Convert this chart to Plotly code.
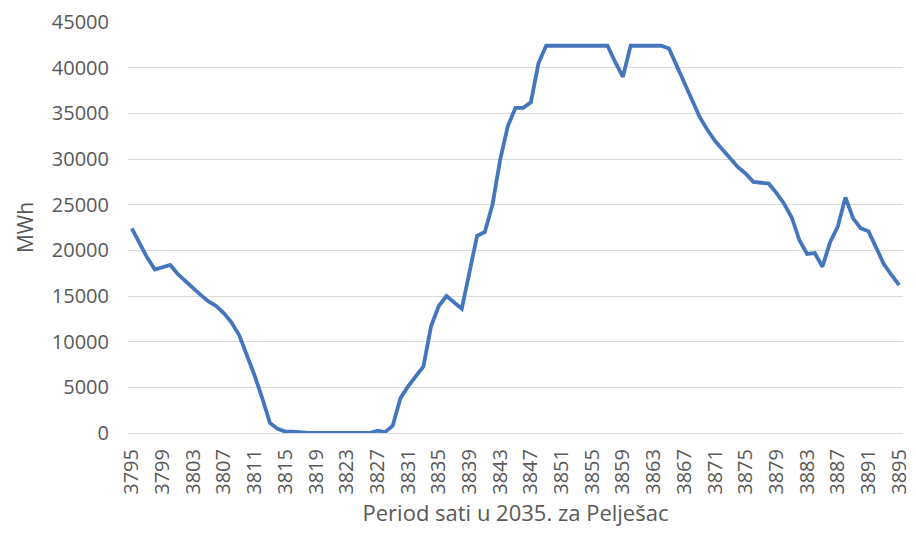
import plotly.graph_objects as go

# Hourly energy values (MWh), hours 3795 .. 3895
hours = list(range(3795, 3896))
energy_mwh = [
    22400, 20800, 19200, 17900, 18100, 18400, 17400, 16600, 15800, 15100,   # 3795-3804
    14400, 13900, 13100, 12100, 10700, 8600, 6300, 3800, 1100, 450,        # 3805-3814
    150, 150, 50, 0, 0, 0, 0, 0, 0, 0,                                      # 3815-3824
    0, 0, 250, 100, 800, 3800, 5100, 6200, 7300, 11700,                     # 3825-3834
    13900, 15000, 14300, 13600, 17600, 21600, 22000, 25000, 29900, 33600,   # 3835-3844
    35600, 35600, 36200, 40500, 42400, 42400, 42400, 42400, 42400, 42400,   # 3845-3854
    42400, 42400, 42400, 40600, 39000, 42400, 42400, 42400, 42400, 42400,   # 3855-3864
    42100, 40200, 38200, 36300, 34600, 33200, 32000, 31000, 30000, 29100,   # 3865-3874
    28400, 27500, 27400, 27300, 26300, 25100, 23600, 21100, 19600, 19700,   # 3875-3884
    18200, 20900, 22600, 25800, 23500, 22400, 22100, 20300, 18500, 17300,   # 3885-3894
    16200,                                                                  # 3895
]
x_labels = [str(h) for h in hours]
tick_labels = [str(h) for h in range(3795, 3896, 4)]
y_ticks = list(range(0, 45001, 5000))

fig = go.Figure(
    go.Scatter(
        x=x_labels,
        y=energy_mwh,
        mode="lines",
        line=dict(color="#4575bd", width=3.8),
    )
)

text_color = "#595959"
fig.update_layout(
    width=916,
    height=533,
    margin=dict(l=128, r=4, t=22, b=100),
    paper_bgcolor="white",
    plot_bgcolor="white",
    showlegend=False,
    font=dict(family="Open Sans, sans-serif", color=text_color),
)
fig.update_xaxes(
    type="category",
    range=[-0.5, len(hours) - 0.5],
    tickmode="array",
    tickvals=tick_labels,
    ticktext=tick_labels,
    tickangle=-90,
    tickfont=dict(size=20, color=text_color),
    showgrid=False,
    showline=False,
    zeroline=False,
    ticks="",
    ticklabelstandoff=11,
    title=dict(text="Period sati u 2035. za Pelješac", font=dict(size=22, color=text_color), standoff=11),
)
fig.update_yaxes(
    range=[0, 45000],
    tickvals=y_ticks,
    ticktext=[str(v) for v in y_ticks],
    tickfont=dict(size=20, color=text_color),
    showgrid=True,
    gridcolor="#d9d9d9",
    gridwidth=1,
    zeroline=True,
    zerolinecolor="#d9d9d9",
    zerolinewidth=1,
    showline=False,
    ticks="",
    ticklabelstandoff=18,
    title=dict(text="MWh", font=dict(size=21, color=text_color), standoff=12),
)

fig.write_html("out.html")
